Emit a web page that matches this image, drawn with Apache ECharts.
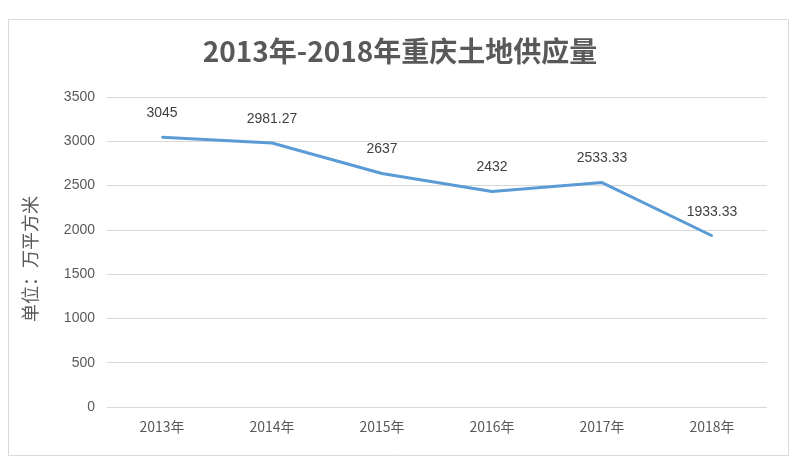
<!DOCTYPE html>
<html>
<head>
<meta charset="utf-8">
<script src="https://cdn.jsdelivr.net/npm/echarts@6/dist/echarts.min.js"></script>
<style>html,body{margin:0;padding:0;background:#fff}#c{width:800px;height:467px}</style>
</head>
<body>
<div id="c"></div>
<script>
const categories = ['2013年', '2014年', '2015年', '2016年', '2017年', '2018年'];
const supplyValues = [3045, 2981.27, 2637, 2432, 2533.33, 1933.33];
const titleText = '2013年-2018年重庆土地供应量';
const yAxisName = '单位：万平方米';

const chart = echarts.init(document.getElementById('c'));
chart.setOption({
  animation: false,
  backgroundColor: '#fff',
  graphic: [{
    type: 'rect',
    shape: { x: 8.5, y: 19.5, width: 780, height: 436 },
    style: { fill: 'none', stroke: '#d9d9d9', lineWidth: 1 }
  }],
  title: {
    text: titleText,
    left: 'center',
    top: 32,
    textStyle: { fontSize: 28, fontWeight: 'bold', color: '#595959', fontFamily: 'Noto Sans CJK SC' }
  },
  grid: { left: 107, right: 33, top: 97, bottom: 60 },
  xAxis: {
    type: 'category',
    data: categories,
    boundaryGap: true,
    axisLine: { show: false },
    axisTick: { show: false },
    axisLabel: { color: '#595959', fontSize: 14, margin: 13, fontFamily: 'Noto Sans CJK SC' }
  },
  yAxis: {
    type: 'value',
    min: 0,
    max: 3500,
    interval: 500,
    name: yAxisName,
    nameLocation: 'middle',
    nameRotate: 90,
    nameGap: 68,
    nameTextStyle: { color: '#595959', fontSize: 18, fontFamily: 'Noto Sans CJK SC', padding: [0, 14, 0, 0] },
    axisLine: { show: false },
    axisTick: { show: false },
    axisLabel: { color: '#595959', fontSize: 14, margin: 12, formatter: v => String(v) },
    splitLine: { lineStyle: { color: '#d9d9d9', width: 1 } }
  },
  series: [{
    type: 'line',
    data: supplyValues,
    symbol: 'circle',
    symbolSize: 2,
    showSymbol: true,
    lineStyle: { color: '#5B9BD5', width: 3 },
    itemStyle: { color: '#5B9BD5' },
    label: {
      show: true,
      position: 'top',
      distance: 16,
      color: '#404040',
      fontSize: 14,
      formatter: p => String(p.value)
    }
  }]
});
</script>
</body>
</html>
